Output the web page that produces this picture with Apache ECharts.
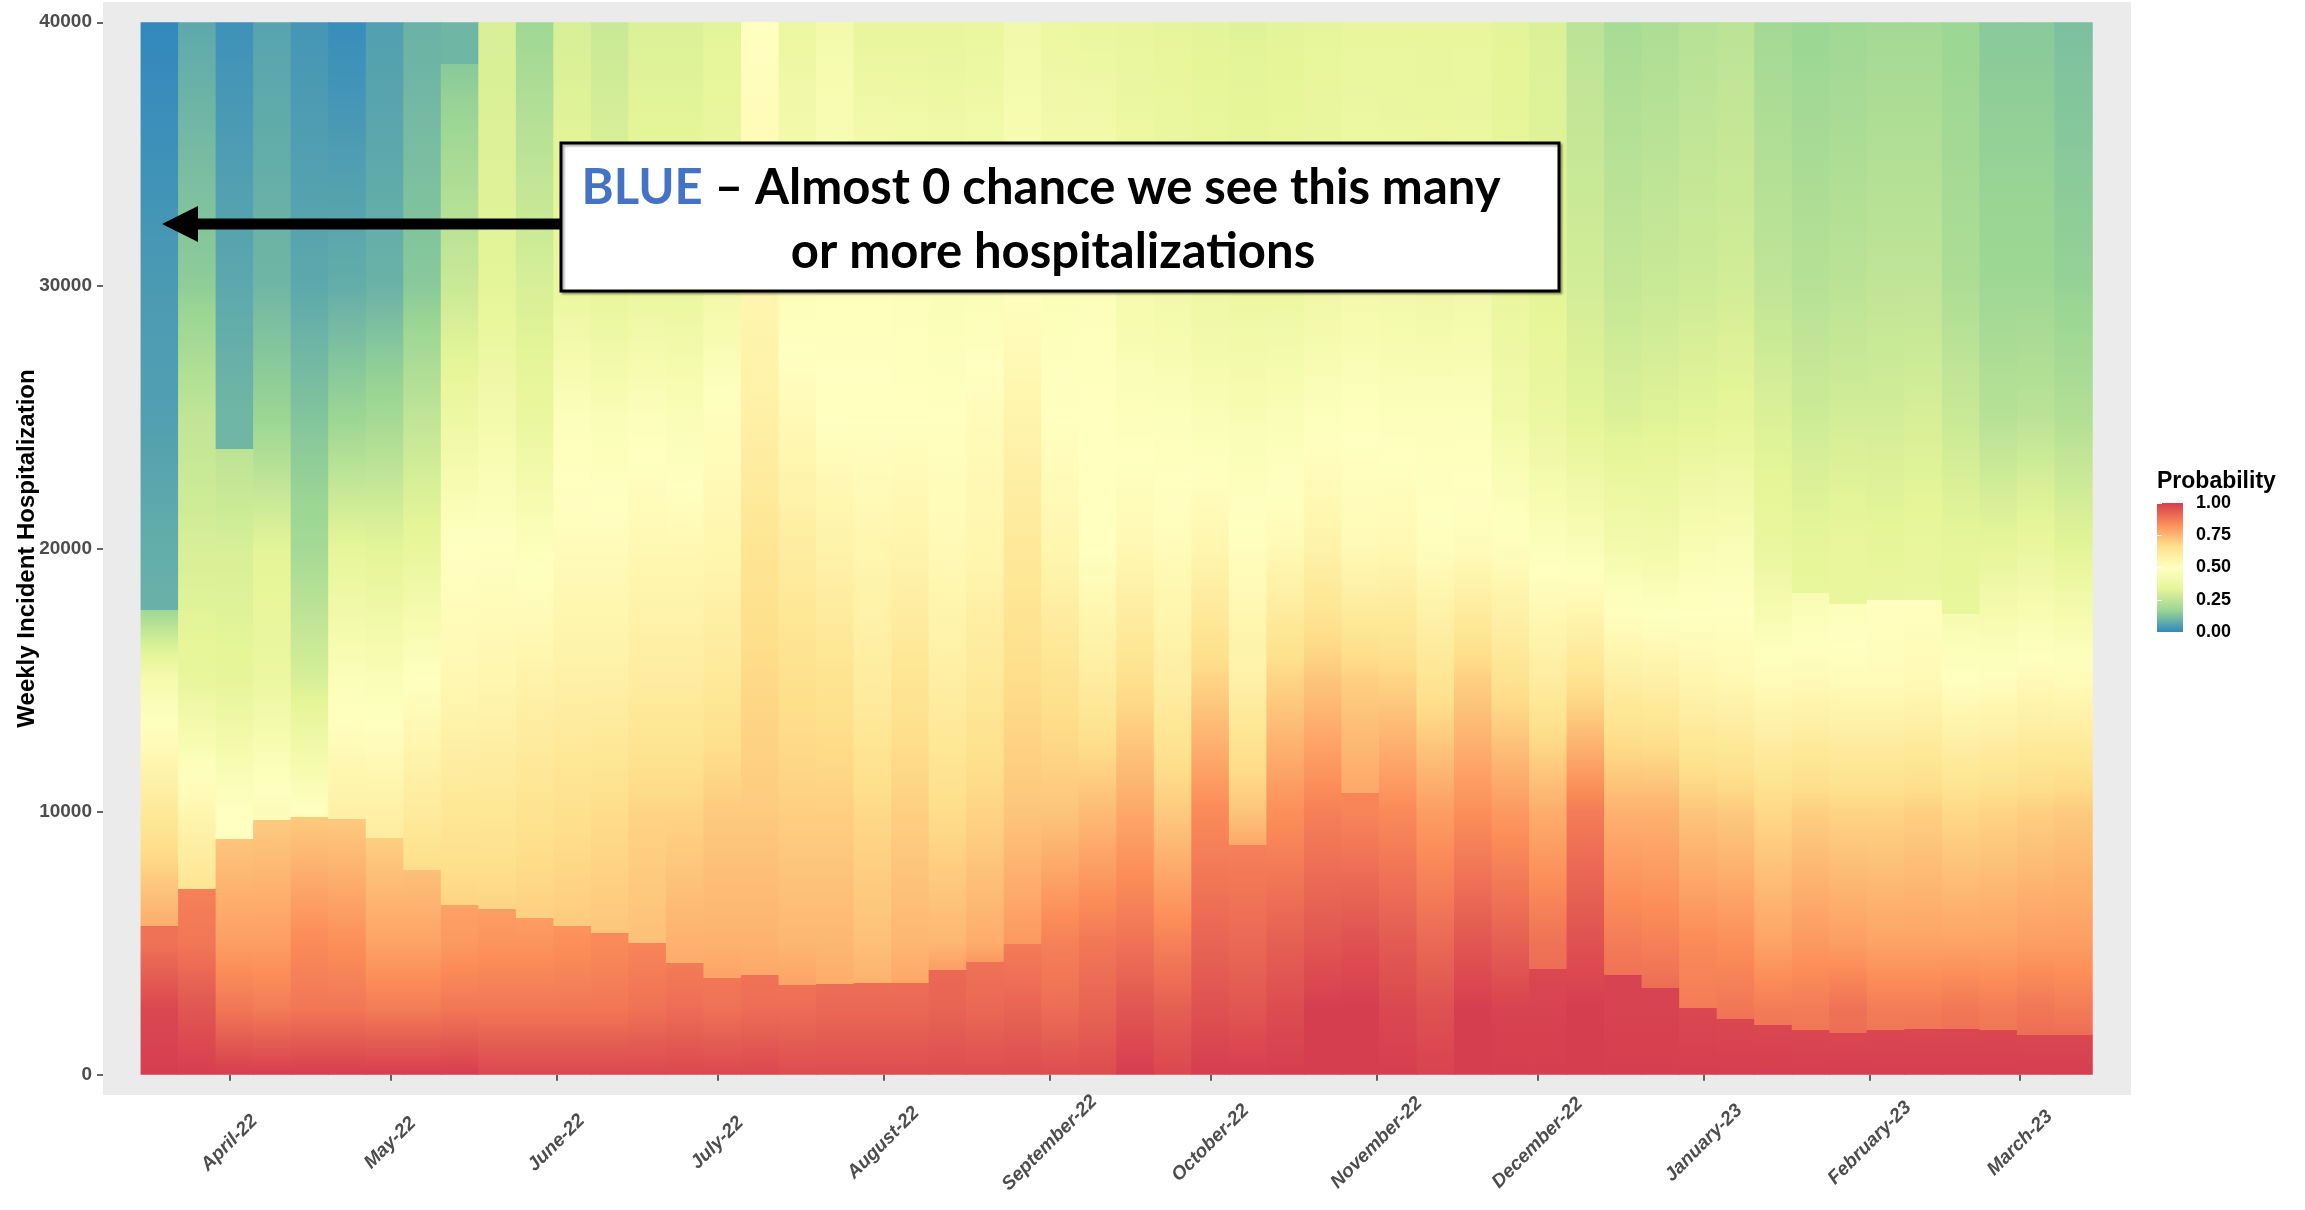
<!DOCTYPE html>
<html>
<head>
<meta charset="utf-8">
<script src="https://cdn.jsdelivr.net/npm/echarts@6/dist/echarts.min.js"></script>
<style>
  html, body { margin: 0; padding: 0; background: #fff; }
  #chart { width: 2305px; height: 1210px; }
</style>
</head>
<body>
<div id="chart"></div>
<script>
// forecast weeks (week ending dates)
const weeks = [
  '2022-03-19', '2022-03-26', '2022-04-02', '2022-04-09', '2022-04-16', '2022-04-23', '2022-04-30',
  '2022-05-07', '2022-05-14', '2022-05-21', '2022-05-28', '2022-06-04', '2022-06-11', '2022-06-18',
  '2022-06-25', '2022-07-02', '2022-07-09', '2022-07-16', '2022-07-23', '2022-07-30', '2022-08-06',
  '2022-08-13', '2022-08-20', '2022-08-27', '2022-09-03', '2022-09-10', '2022-09-17', '2022-09-24',
  '2022-10-01', '2022-10-08', '2022-10-15', '2022-10-22', '2022-10-29', '2022-11-05', '2022-11-12',
  '2022-11-19', '2022-11-26', '2022-12-03', '2022-12-10', '2022-12-17', '2022-12-24', '2022-12-31',
  '2023-01-07', '2023-01-14', '2023-01-21', '2023-01-28', '2023-02-04', '2023-02-11', '2023-02-18',
  '2023-02-25', '2023-03-04', '2023-03-11'
];
const monthTicks = [
  '2022-04-01', '2022-05-01', '2022-06-01', '2022-07-01', '2022-08-01', '2022-09-01',
  '2022-10-01', '2022-11-01', '2022-12-01', '2023-01-01', '2023-02-01', '2023-03-01'
];
const monthLabels = [
  'April-22', 'May-22', 'June-22', 'July-22', 'August-22', 'September-22',
  'October-22', 'November-22', 'December-22', 'January-23', 'February-23', 'March-23'
];
const yTicks = [0, 10000, 20000, 30000, 40000];

// probability of seeing at least this many hospitalizations, read per week at fixed levels
const levels = [0, 2500, 5000, 10000, 15000, 20000, 25000, 30000, 40000];
const p0 = [1, 1, 1, 1, 1, 1, 1, 1, 1, 0.98, 0.98, 0.98, 0.98, 0.98, 0.98, 0.98, 0.98, 0.97, 0.97, 0.97,
  0.97, 0.97, 0.97, 0.97, 0.97, 0.97, 1, 0.98, 1, 1, 1, 1, 1, 1, 0.99, 1, 1, 1, 1, 1,
  1, 1, 1, 1, 1, 1, 1, 1, 1, 1, 1, 1];
const p2500 = [0.98, 0.95, 0.88, 0.87, 0.88, 0.88, 0.87, 0.87, 0.88, 0.88, 0.88, 0.88, 0.88, 0.89, 0.9, 0.89, 0.9, 0.9, 0.91, 0.91,
  0.91, 0.92, 0.91, 0.92, 0.9, 0.92, 0.95, 0.93, 0.96, 0.95, 0.97, 1, 1, 0.98, 0.96, 1, 0.99, 0.99, 1, 0.99,
  0.99, 0.98, 0.88, 0.87, 0.87, 0.89, 0.87, 0.87, 0.88, 0.87, 0.88, 0.87];
const p5000 = [0.89, 0.88, 0.8, 0.8, 0.84, 0.83, 0.79, 0.79, 0.81, 0.82, 0.82, 0.83, 0.84, 0.85, 0.76, 0.76, 0.76, 0.75, 0.75, 0.73,
  0.75, 0.75, 0.77, 0.81, 0.86, 0.88, 0.89, 0.86, 0.92, 0.91, 0.93, 0.95, 0.96, 0.94, 0.91, 0.95, 0.93, 0.89, 0.96, 0.87,
  0.86, 0.84, 0.83, 0.79, 0.81, 0.8, 0.79, 0.79, 0.79, 0.79, 0.8, 0.8];
const p10000 = [0.62, 0.55, 0.5, 0.52, 0.5, 0.58, 0.58, 0.61, 0.63, 0.63, 0.65, 0.66, 0.67, 0.69, 0.69, 0.71, 0.71, 0.7, 0.7, 0.68,
  0.7, 0.67, 0.69, 0.72, 0.72, 0.74, 0.78, 0.71, 0.84, 0.72, 0.83, 0.86, 0.85, 0.84, 0.8, 0.83, 0.81, 0.77, 0.87, 0.76,
  0.76, 0.72, 0.71, 0.68, 0.7, 0.69, 0.69, 0.7, 0.68, 0.69, 0.7, 0.71];
const p15000 = [0.43, 0.35, 0.34, 0.37, 0.3, 0.47, 0.46, 0.5, 0.54, 0.55, 0.57, 0.58, 0.58, 0.6, 0.6, 0.62, 0.68, 0.66, 0.65, 0.6,
  0.64, 0.59, 0.62, 0.67, 0.65, 0.6, 0.66, 0.59, 0.69, 0.58, 0.69, 0.72, 0.7, 0.69, 0.64, 0.7, 0.65, 0.6, 0.65, 0.59,
  0.58, 0.55, 0.54, 0.52, 0.53, 0.52, 0.52, 0.53, 0.5, 0.51, 0.53, 0.52];
const p20000 = [0.08, 0.3, 0.3, 0.33, 0.19, 0.34, 0.33, 0.35, 0.5, 0.5, 0.48, 0.52, 0.52, 0.54, 0.54, 0.55, 0.64, 0.6, 0.57, 0.55,
  0.56, 0.53, 0.55, 0.62, 0.55, 0.5, 0.54, 0.52, 0.55, 0.51, 0.53, 0.57, 0.53, 0.54, 0.51, 0.52, 0.51, 0.48, 0.46, 0.42,
  0.41, 0.45, 0.46, 0.36, 0.34, 0.35, 0.34, 0.35, 0.34, 0.34, 0.36, 0.33];
const p25000 = [0.05, 0.25, 0.1, 0.17, 0.13, 0.17, 0.19, 0.25, 0.38, 0.42, 0.36, 0.48, 0.46, 0.48, 0.46, 0.51, 0.58, 0.53, 0.5, 0.5,
  0.5, 0.5, 0.52, 0.56, 0.5, 0.5, 0.48, 0.48, 0.46, 0.45, 0.46, 0.48, 0.49, 0.48, 0.48, 0.48, 0.41, 0.37, 0.33, 0.31,
  0.32, 0.33, 0.34, 0.31, 0.28, 0.29, 0.29, 0.3, 0.27, 0.23, 0.24, 0.22];
const p30000 = [0.04, 0.15, 0.07, 0.1, 0.07, 0.08, 0.09, 0.14, 0.27, 0.33, 0.3, 0.36, 0.34, 0.36, 0.36, 0.4, 0.55, 0.47, 0.49, 0.49,
  0.48, 0.46, 0.46, 0.5, 0.47, 0.48, 0.42, 0.4, 0.38, 0.37, 0.37, 0.39, 0.41, 0.4, 0.39, 0.4, 0.36, 0.33, 0.29, 0.26,
  0.27, 0.28, 0.29, 0.25, 0.23, 0.24, 0.25, 0.25, 0.21, 0.18, 0.18, 0.16];
const p40000 = [0, 0.07, 0.02, 0.06, 0.03, 0.01, 0.05, 0.09, 0.1, 0.3, 0.18, 0.3, 0.27, 0.31, 0.31, 0.33, 0.5, 0.37, 0.42, 0.35,
  0.35, 0.35, 0.36, 0.4, 0.37, 0.36, 0.35, 0.34, 0.33, 0.32, 0.33, 0.34, 0.35, 0.35, 0.35, 0.35, 0.33, 0.31, 0.24, 0.2,
  0.21, 0.23, 0.24, 0.19, 0.17, 0.18, 0.19, 0.19, 0.17, 0.14, 0.14, 0.12];

// sharp jump in each week's colour (null where the column has none)
const stepY = [5670, 7050, 8950, 9670, 9800, 9730, 9000, 7800, 6460, 6290, 5970, 5670, 5370, 5020, 4230, 3670, 3780, 3410, 3450, 3500,
  3500, 3980, 4300, 4950, null, null, null, null, null, 8750, null, null, 10700, null, null, null, null, 4000, null, 3800,
  3300, 2530, 2100, 1900, 1700, 1600, 1700, 1750, 1750, 1700, 1500, 1500];
const stepBelow = [0.89, 0.86, 0.72, 0.71, 0.71, 0.71, 0.7, 0.73, 0.79, 0.8, 0.8, 0.82, 0.84, 0.85, 0.87, 0.88, 0.89, 0.89, 0.9, 0.9,
  0.9, 0.91, 0.89, 0.87, null, null, null, null, null, 0.86, null, null, 0.85, null, null, null, null, 0.98, null, 0.99,
  0.99, 0.98, 0.98, 0.98, 0.98, 0.98, 0.98, 0.98, 0.98, 0.98, 0.98, 0.98];
const stepAbove = [0.77, 0.64, 0.5, 0.52, 0.52, 0.58, 0.6, 0.67, 0.69, 0.69, 0.7, 0.71, 0.72, 0.73, 0.77, 0.79, 0.78, 0.79, 0.77, 0.76,
  0.78, 0.8, 0.81, 0.81, null, null, null, null, null, 0.78, null, null, 0.78, null, null, null, null, 0.9, null, 0.89,
  0.9, 0.87, 0.89, 0.88, 0.88, 0.9, 0.88, 0.88, 0.89, 0.88, 0.9, 0.9];

// second, higher jump seen in a few weeks
const step2Week = [0, 2, 8, 44, 45, 46, 47, 48];
const step2Y = [17660, 23800, 38400, 18300, 17900, 18050, 18050, 17500];
const step2Below = [0.18, 0.24, 0.14, 0.45, 0.48, 0.5, 0.5, 0.44];
const step2Above = [0.09, 0.1, 0.1, 0.35, 0.35, 0.36, 0.36, 0.35];

const palette = ['#3288BD', '#99D594', '#E6F598', '#FFFFBF', '#FEE08B', '#FC8D59', '#D53E4F'];
const FONT = '"Liberation Sans", Arial, sans-serif';
const DAY = 86400000;
const halfWeek = 3.5 * DAY;
const monthTimes = monthTicks.map(d => Date.parse(d));

const probColor = p => echarts.color.lerp(Math.min(1, Math.max(0, p)), palette);

function columnAnchors(i) {
  const vals = [p0, p2500, p5000, p10000, p15000, p20000, p25000, p30000, p40000].map(a => a[i]);
  let pts = levels.map((y, k) => [y, vals[k]]);
  const addStep = (sy, lo, hi) => {
    if (sy == null) return;
    pts = pts.filter(d => d[0] < sy).concat([[sy, lo], [sy, hi]], pts.filter(d => d[0] > sy));
  };
  addStep(stepY[i], stepBelow[i], stepAbove[i]);
  const k2 = step2Week.indexOf(i);
  if (k2 >= 0) addStep(step2Y[k2], step2Below[k2], step2Above[k2]);
  return pts;
}

function columnStops(i) {
  const pts = columnAnchors(i);
  const stops = [];
  for (let k = 0; k < pts.length; k++) {
    const [y, p] = pts[k];
    stops.push({ offset: y / 40000, color: probColor(p) });
    if (k < pts.length - 1) {
      const [y2, p2] = pts[k + 1];
      if (y2 > y) {
        for (let s = 1; s < 6; s++) {
          const f = s / 6;
          stops.push({ offset: (y + (y2 - y) * f) / 40000, color: probColor(p + (p2 - p) * f) });
        }
      }
    }
  }
  return stops;
}

// fit the callout text to the width it has in the original slide
const line1 = ' – Almost 0 chance we see this many';
const ctx = document.createElement('canvas').getContext('2d');
ctx.font = 'bold 100px Lato';
const calloutSize = Math.round(100 * 918 / ctx.measureText('BLUE' + line1).width);

const chart = echarts.init(document.getElementById('chart'));

chart.setOption({
  animation: false,
  title: {
    text: 'Probability',
    left: 2157,
    top: 470,
    padding: 0,
    textStyle: { fontSize: 23, fontWeight: 'bold', color: '#000', fontFamily: FONT }
  },
  grid: [
    { left: 103, right: 174, top: 2, bottom: 115, outerBoundsMode: 'none', show: true, backgroundColor: '#EBEBEB', borderWidth: 0 },
    { left: 2157, top: 503, width: 26, height: 129, outerBoundsMode: 'none' }
  ],
  xAxis: [
    {
      type: 'value',
      gridIndex: 0,
      min: Date.parse('2022-03-08T10:00:00Z'),
      max: Date.parse('2023-03-21T17:00:00Z'),
      axisLine: { show: false },
      splitLine: { show: false },
      axisTick: { customValues: monthTimes, length: 6, lineStyle: { color: '#333', width: 1.5 } },
      axisLabel: {
        customValues: monthTimes,
        rotate: 45,
        align: 'center',
        verticalAlign: 'middle',
        margin: 48,
        color: '#4D4D4D',
        fontWeight: 'bold',
        fontStyle: 'italic',
        fontSize: 19,
        fontFamily: FONT,
        formatter: v => monthLabels[monthTimes.indexOf(v)]
      }
    },
    { type: 'value', gridIndex: 1, min: 0, max: 1, show: false }
  ],
  yAxis: [
    {
      type: 'value',
      gridIndex: 0,
      min: -770,
      max: 40770,
      name: 'Weekly Incident Hospitalization',
      nameLocation: 'middle',
      nameGap: 64,
      nameMoveOverlap: false,
      nameTextStyle: { fontSize: 24, fontWeight: 'bold', color: '#000', fontFamily: FONT },
      axisLine: { show: false },
      splitLine: { show: false },
      axisTick: { customValues: yTicks, length: 6, lineStyle: { color: '#333', width: 1.5 } },
      axisLabel: {
        customValues: yTicks,
        margin: 11,
        color: '#4D4D4D',
        fontWeight: 'bold',
        fontSize: 19,
        fontFamily: FONT,
        formatter: v => String(v)
      }
    },
    {
      type: 'value',
      gridIndex: 1,
      min: 0,
      max: 1,
      interval: 0.25,
      position: 'right',
      z: 10,
      axisLine: { show: false },
      splitLine: { show: false },
      axisTick: { inside: true, length: 5, lineStyle: { color: '#fff', width: 1 } },
      axisLabel: {
        margin: 13,
        color: '#000',
        fontWeight: 'bold',
        fontSize: 18,
        fontFamily: FONT,
        formatter: v => v.toFixed(2)
      }
    },
    {
      type: 'value',
      gridIndex: 1,
      min: 0,
      max: 1,
      interval: 0.25,
      position: 'left',
      z: 10,
      axisLine: { show: false },
      splitLine: { show: false },
      axisTick: { inside: true, length: 5, lineStyle: { color: '#fff', width: 1 } },
      axisLabel: { show: false }
    }
  ],
  series: [
    {
      type: 'custom',
      xAxisIndex: 0,
      yAxisIndex: 0,
      silent: true,
      z: 2,
      data: weeks.map((w, i) => [Date.parse(w), i]),
      renderItem: (params, api) => {
        const t = api.value(0);
        const i = api.value(1);
        const a = api.coord([t - halfWeek, 40000]);
        const b = api.coord([t + halfWeek, 0]);
        return {
          type: 'rect',
          shape: { x: a[0] - 0.4, y: a[1], width: b[0] - a[0] + 0.8, height: b[1] - a[1] },
          style: { fill: new echarts.graphic.LinearGradient(0, 1, 0, 0, columnStops(i)) }
        };
      }
    },
    {
      type: 'custom',
      xAxisIndex: 1,
      yAxisIndex: 1,
      silent: true,
      data: [[0, 0]],
      renderItem: (params, api) => {
        const a = api.coord([0, 1]);
        const b = api.coord([1, 0]);
        return {
          type: 'rect',
          shape: { x: a[0], y: a[1], width: b[0] - a[0], height: b[1] - a[1] },
          style: {
            fill: new echarts.graphic.LinearGradient(0, 1, 0, 0,
              palette.map((c, k) => ({ offset: k / (palette.length - 1), color: c })))
          }
        };
      }
    }
  ],
  graphic: {
    elements: [
      { type: 'line', z: 100, shape: { x1: 562, y1: 224, x2: 194, y2: 224 }, style: { stroke: '#000', lineWidth: 11 } },
      { type: 'polygon', z: 100, shape: { points: [[162, 224], [198, 206], [198, 242]] }, style: { fill: '#000' } },
      {
        type: 'rect',
        z: 100,
        shape: { x: 561, y: 143, width: 998, height: 148 },
        style: { fill: '#fff', stroke: '#000', lineWidth: 3, shadowColor: 'rgba(0,0,0,0.3)', shadowOffsetX: 2, shadowOffsetY: 2, shadowBlur: 2 }
      },
      {
        type: 'text',
        z: 101,
        x: 1041,
        y: 188,
        style: {
          text: '{b|BLUE}{k|' + line1 + '}',
          align: 'center',
          verticalAlign: 'middle',
          rich: {
            b: { fill: '#4472C4', fontSize: calloutSize, fontWeight: 'bold', fontFamily: 'Lato' },
            k: { fill: '#000', fontSize: calloutSize, fontWeight: 'bold', fontFamily: 'Lato' }
          }
        }
      },
      {
        type: 'text',
        z: 101,
        x: 1053,
        y: 252,
        style: {
          text: 'or more hospitalizations',
          align: 'center',
          verticalAlign: 'middle',
          fill: '#000',
          fontSize: calloutSize,
          fontWeight: 'bold',
          fontFamily: 'Lato'
        }
      }
    ]
  }
});

window.addEventListener('resize', () => chart.resize());
</script>
</body>
</html>
